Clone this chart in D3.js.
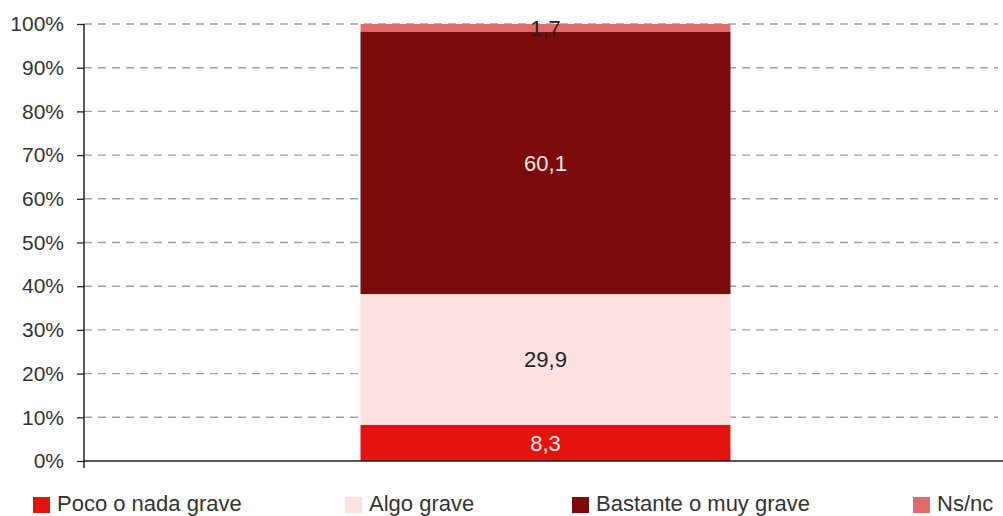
<!DOCTYPE html>
<html><head><meta charset="utf-8">
<script src="https://cdn.jsdelivr.net/npm/d3@7"></script>
<style>body{margin:0;background:#fff}svg{display:block;font-family:"Liberation Sans",Arial,sans-serif}</style>
</head><body><svg id="c" width="1003" height="516"></svg>
<script>
const categories = ["total"];
const seriesNames = ["Poco o nada grave","Algo grave","Bastante o muy grave","Ns/nc"];
const seriesValues = [[8.3],[29.9],[60.1],[1.7]];
const seriesColors = ["#e3140f","#fde0e0","#7b0a0b","#e06a6a"];
const labelColors = ["#f4eaea","#222222","#f0e6e6","#222222"];
const yTicks = [0,10,20,30,40,50,60,70,80,90,100];
const legendX = [33,345,572,913];

const svg = d3.select("#c");
const x0 = 84, x1 = 1003, yTop = 24, yBot = 461;
const x = d3.scaleBand().domain(categories).range([x0, x1]).paddingInner(0).paddingOuter(0.3);
const y = d3.scaleLinear().domain([0,100]).range([yBot, yTop]);

// grid
svg.append("g").selectAll("line").data(yTicks.filter(d=>d>0)).join("line")
  .attr("x1", x0).attr("x2", 998).attr("y1", d=>y(d)).attr("y2", d=>y(d))
  .attr("stroke","#a0a0a0").attr("stroke-width",1.4).attr("stroke-dasharray","8,6");

// stacks
const rows = categories.map((c,i)=>{const o={cat:c}; seriesNames.forEach((s,j)=>o[s]=seriesValues[j][i]); return o;});
const stack = d3.stack().keys(seriesNames)(rows);
const bx = 360.5, bw = 370;
stack.forEach((layer,j)=>{
  svg.append("g").selectAll("rect").data(layer).join("rect")
    .attr("x", bx).attr("width", bw)
    .attr("y", d=>y(d[1])).attr("height", d=>y(d[0])-y(d[1]))
    .attr("fill", seriesColors[j]);
});
stack.forEach((layer,j)=>{
  svg.append("g").selectAll("text").data(layer).join("text")
    .attr("x", bx+bw/2).attr("y", d=> j===3 ? y(d[1])+4 : y((d[0]+d[1])/2))
    .attr("dy","0.36em").attr("text-anchor","middle")
    .attr("font-size",22).attr("fill", labelColors[j])
    .text(d=>d3.format(".1f")(d[1]-d[0]).replace(".",","));
});

// y axis
const yAxis = d3.axisLeft(y).tickValues(yTicks).tickFormat(d=>d+"%").tickSize(7).tickPadding(13);
const ga = svg.append("g").attr("transform",`translate(${x0},0)`).call(yAxis);
ga.select(".domain").remove();
ga.selectAll(".tick line").attr("stroke","#222").attr("stroke-width",1.3);
ga.selectAll(".tick text").attr("font-size",21).attr("fill","#333").attr("font-family","Liberation Sans, Arial, sans-serif");
svg.append("line").attr("x1",x0).attr("x2",x0).attr("y1",yTop).attr("y2",468).attr("stroke","#222").attr("stroke-width",1.5);
svg.append("line").attr("x1",x0).attr("x2",x1).attr("y1",yBot).attr("y2",yBot).attr("stroke","#222").attr("stroke-width",1.5);

// legend
const lg = svg.append("g").selectAll("g").data(seriesNames).join("g")
  .attr("transform",(d,i)=>`translate(${legendX[i]},497)`);
lg.append("rect").attr("width",17).attr("height",16).attr("fill",(d,i)=>seriesColors[i]);
lg.append("text").attr("x",24).attr("y",13.5).attr("font-size",22).attr("fill","#333").text(d=>d);
</script></body></html>
